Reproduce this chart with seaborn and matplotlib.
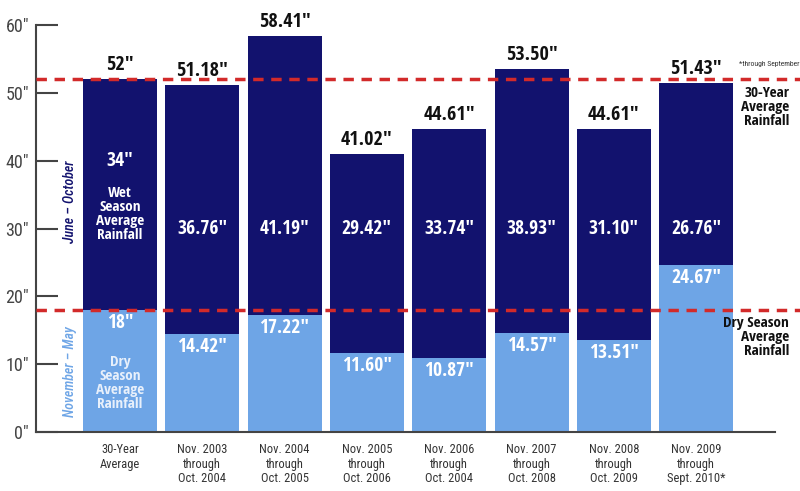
import matplotlib
matplotlib.use("Agg")
import matplotlib.pyplot as plt
import seaborn as sns
import pandas as pd

sns.set_theme(style="white")
plt.rcParams['font.family'] = ['Roboto Condensed', 'DejaVu Sans']
BOLD = ['Open Sans Condensed', 'Roboto Condensed', 'DejaVu Sans']
REG = ['Roboto Condensed', 'DejaVu Sans']

categories = ["30-Year\nAverage", "Nov. 2003\nthrough\nOct. 2004", "Nov. 2004\nthrough\nOct. 2005",
              "Nov. 2005\nthrough\nOct. 2006", "Nov. 2006\nthrough\nOct. 2004", "Nov. 2007\nthrough\nOct. 2008",
              "Nov. 2008\nthrough\nOct. 2009", "Nov. 2009\nthrough\nSept. 2010*"]
dry = [18, 14.42, 17.22, 11.60, 10.87, 14.57, 13.51, 24.67]
wet = [34, 36.76, 41.19, 29.42, 33.74, 38.93, 31.10, 26.76]
totals = [52, 51.18, 58.41, 41.02, 44.61, 53.50, 44.61, 51.43]
total_labels = ["52″", "51.18″", "58.41″", "41.02″", "44.61″", "53.50″", "44.61″", "51.43″"]
dry_labels = ["18″", "14.42″", "17.22″", "11.60″", "10.87″", "14.57″", "13.51″", "24.67″"]
wet_labels = ["34″", "36.76″", "41.19″", "29.42″", "33.74″", "38.93″", "31.10″", "26.76″"]
yticks = [0, 10, 20, 30, 40, 50, 60]
ytick_labels = ["0″", "10″", "20″", "30″", "40″", "50″", "60″"]
avg_wet_total = 52
avg_dry = 18

navy = "#12126e"
light = "#6ea5e6"
red = "#d22a2a"
gray = "#444444"

df = pd.DataFrame({"period": categories, "dry": dry, "wet": wet, "total": totals})

fig = plt.figure(figsize=(8, 4.91), dpi=100)
ax = fig.add_axes([0.045, 0.120, 0.924, 0.829])

sns.barplot(data=df, x="period", y="total", color=navy, width=0.9, saturation=1, ax=ax, linewidth=0)
sns.barplot(data=df, x="period", y="dry", color=light, width=0.9, saturation=1, ax=ax, linewidth=0)

ax.set_ylim(0, 60)
ax.set_xlim(-1.02, 7.96)
ax.set_xlabel("")
ax.set_ylabel("")
ax.set_yticks(yticks)
ax.set_yticklabels(ytick_labels, fontsize=13, color=gray, family=REG)
ax.tick_params(axis="y", direction="in", length=16, width=1.5, color=gray, pad=5, left=True)
ax.tick_params(axis="x", length=0, pad=8, labelsize=9, labelcolor="#333333")
for lab in ax.get_xticklabels():
    lab.set_linespacing(1.15)
    lab.set_va("top")
    lab.set_family(REG)

sns.despine(ax=ax, top=True, right=True)
for s in ["left", "bottom"]:
    ax.spines[s].set_color(gray)
    ax.spines[s].set_linewidth(1.5)

# dashed average lines
for yv in [avg_wet_total, avg_dry]:
    ax.plot([-1.02, 8.3], [yv, yv], color=red, linestyle=(0, (3, 2.2)), linewidth=2.5,
            clip_on=False, zorder=5)

for i in range(len(categories)):
    ax.annotate(total_labels[i], (i, totals[i]), xytext=(0, 3), textcoords="offset points",
                ha="center", va="bottom", fontsize=14.5, fontweight="bold", color="#111111",
                family=BOLD)
    ax.text(i, dry[i] - 1.9, dry_labels[i], ha="center", va="center", fontsize=14,
            fontweight="bold", color="white", family=BOLD)
    ax.text(i, 40 if i == 0 else 30, wet_labels[i], ha="center", va="center", fontsize=14,
            fontweight="bold", color="white", family=BOLD)

ax.text(0, 32.2, "Wet\nSeason\nAverage\nRainfall", ha="center", va="center", fontsize=11,
        fontweight="bold", color="white", linespacing=1.0, family=BOLD)
ax.text(0, 7.3, "Dry\nSeason\nAverage\nRainfall", ha="center", va="center", fontsize=11,
        fontweight="bold", color="#e8f0fb", linespacing=1.0, family=BOLD)

ax.text(-0.61, 34, "June – October", rotation=90, ha="center", va="center", fontsize=10,
        style="italic", fontweight="medium", color=navy, family=REG)
ax.text(-0.61, 8.9, "November – May", rotation=90, ha="center", va="center", fontsize=10,
        style="italic", fontweight="medium", color=light, family=REG)

ax.annotate("*through September", (7, totals[7]), xytext=(31, 14), textcoords="offset points",
            ha="left", va="center", fontsize=5.5, color="#333333", annotation_clip=False,
            family=REG)

ax.text(8.13, 47.9, "30-Year\nAverage\nRainfall", ha="right", va="center", fontsize=11,
        fontweight="bold", color="#111111", linespacing=1.0, clip_on=False, family=BOLD)
ax.text(8.13, 14.0, "Dry Season\nAverage\nRainfall", ha="right", va="center", fontsize=11,
        fontweight="bold", color="#111111", linespacing=1.0, clip_on=False, family=BOLD)

fig.savefig("out.png", dpi=100)
